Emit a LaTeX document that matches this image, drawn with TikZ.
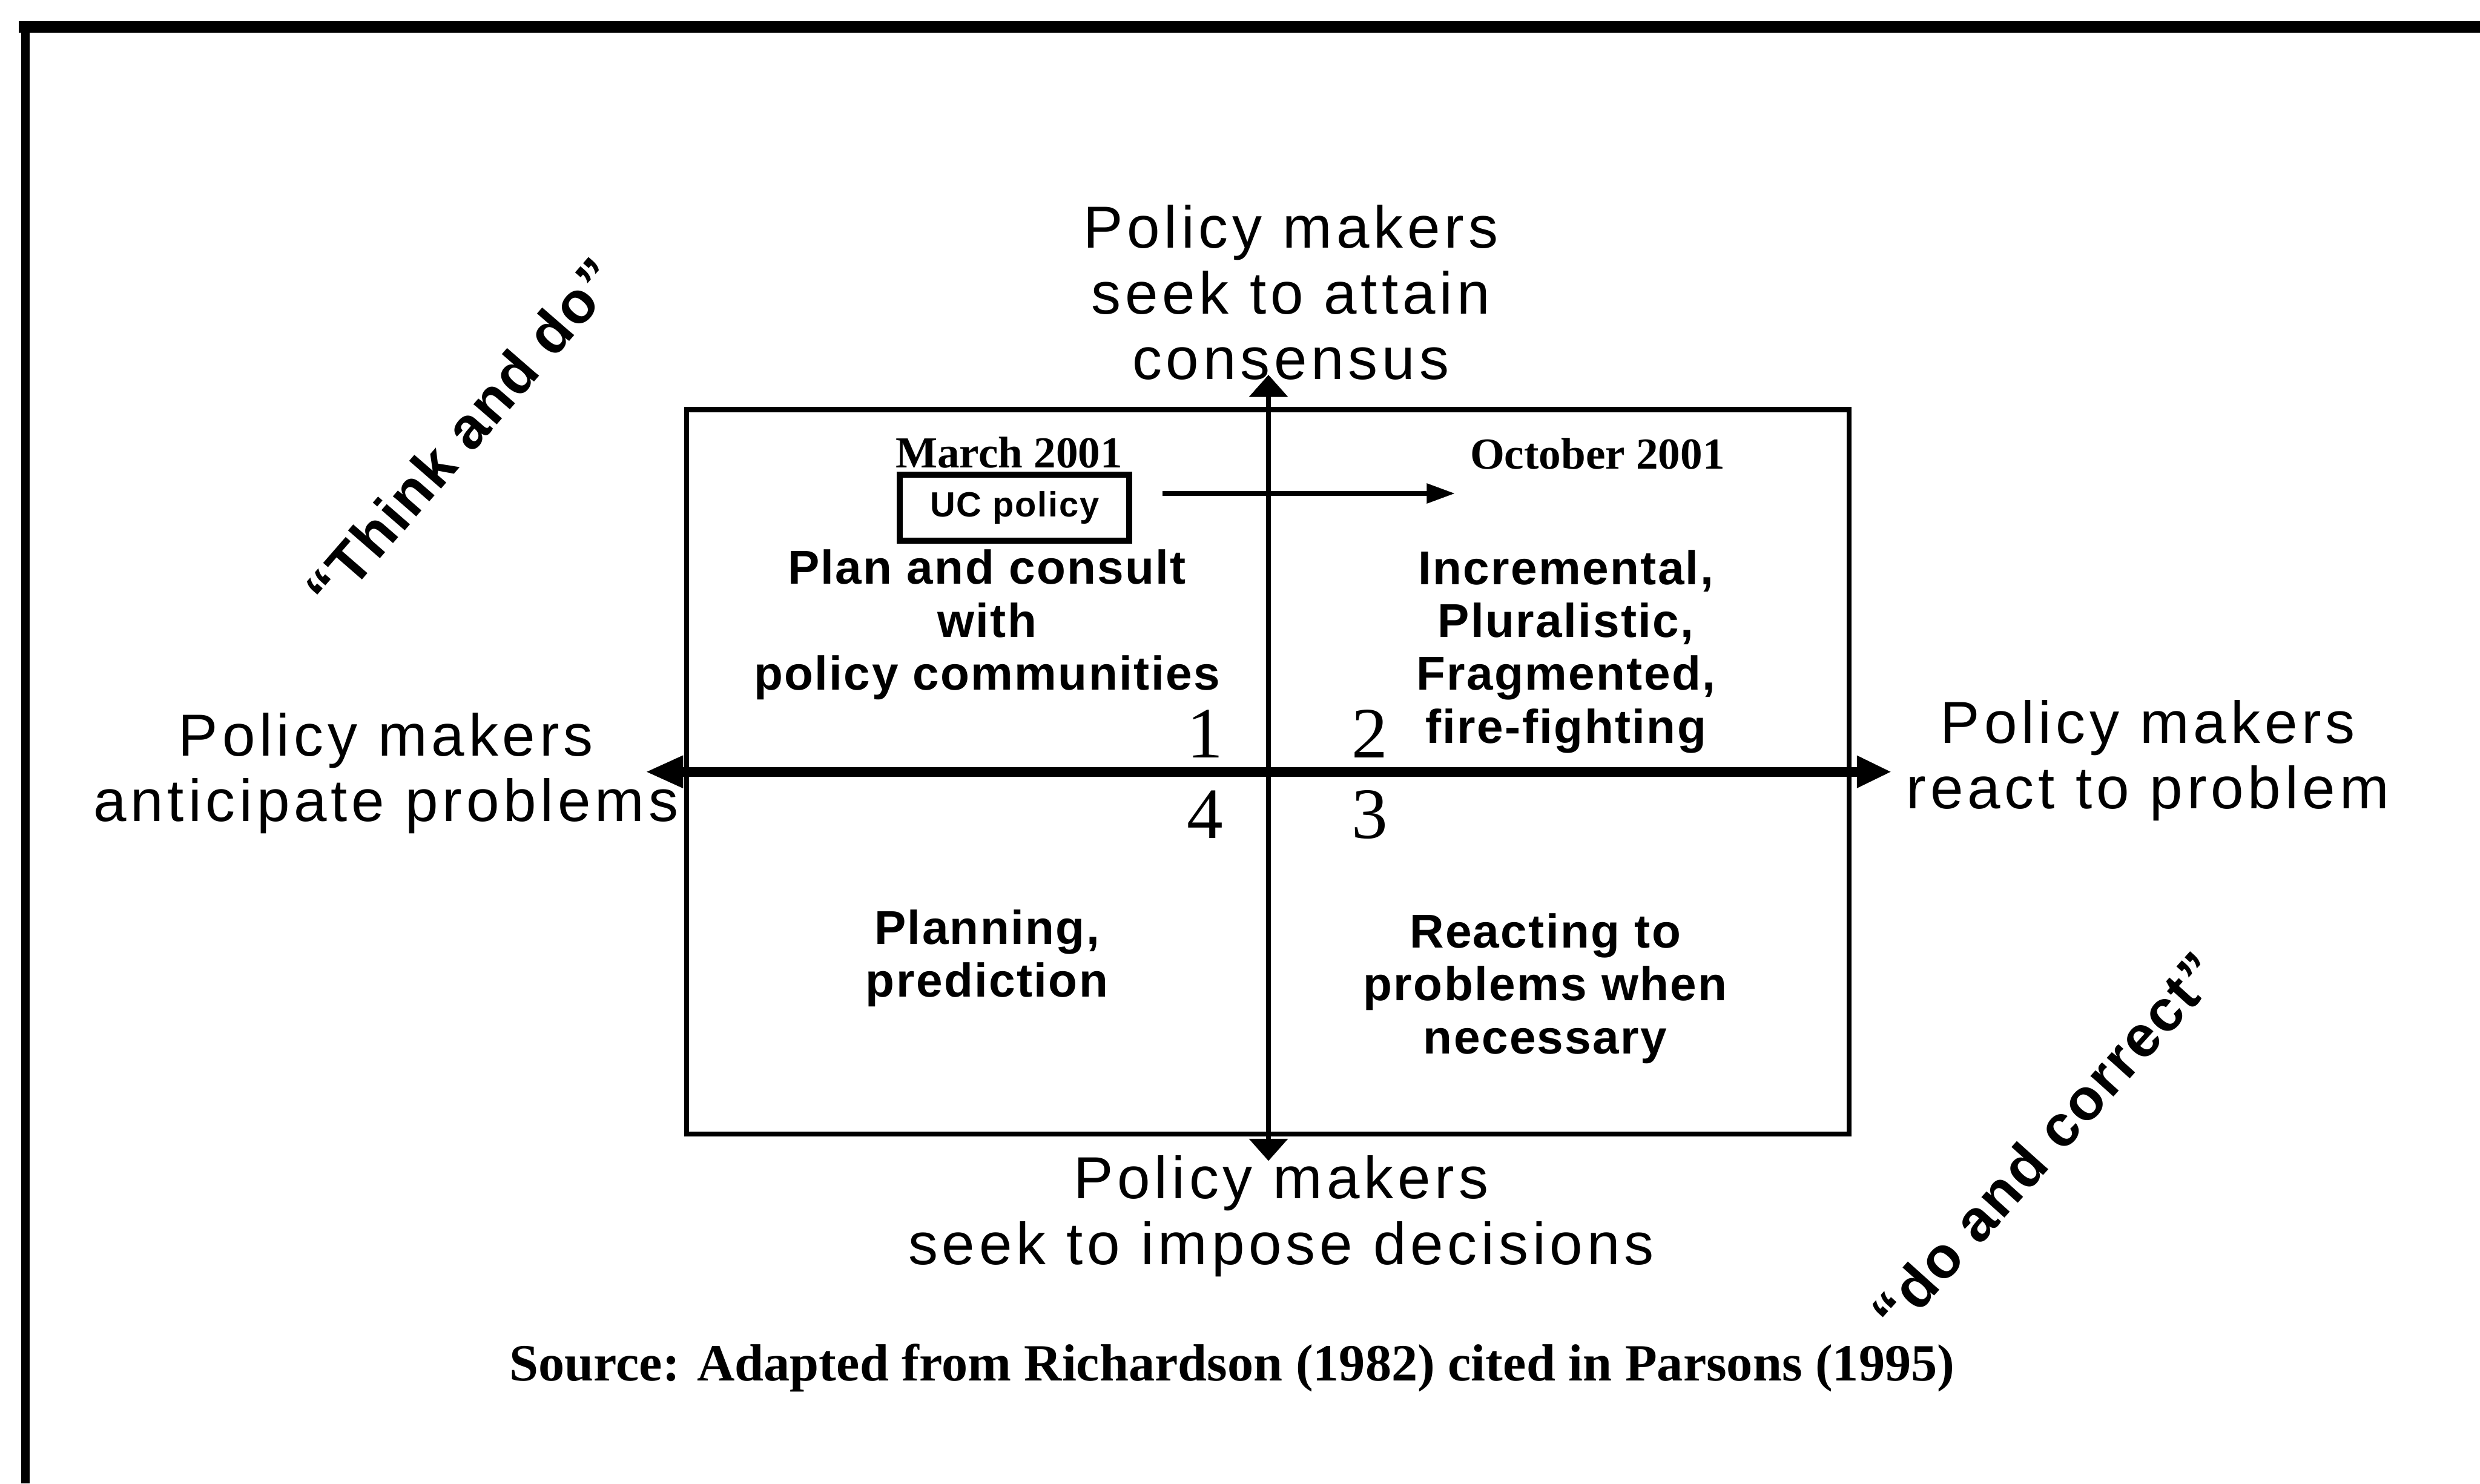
\documentclass[tikz,border=0pt]{standalone}
\usepackage{fontspec}
\setmainfont{Liberation Sans}
\newfontfamily\axisfont[LetterSpace=7]{Liberation Sans}
\newfontfamily\quadfont[LetterSpace=3]{Liberation Sans}
\newfontfamily\numfont{Liberation Serif}
\usetikzlibrary{arrows.meta}

\begin{document}
\begin{tikzpicture}[x=0.1mm,y=-0.1mm,
  axislabel/.style={align=center,inner sep=0pt,
    font=\axisfont\fontsize{10.67}{11.8}\selectfont},
  quadtext/.style={align=center,inner sep=0pt,
    font=\quadfont\bfseries\fontsize{8.54}{9.5}\selectfont},
  quadnum/.style={inner sep=0pt,font=\numfont\fontsize{13}{13}\selectfont},
  datelabel/.style={inner sep=0pt,font=\numfont\bfseries\fontsize{7.97}{8}\selectfont},
  diaglabel/.style={inner sep=0pt,font=\quadfont\bfseries\fontsize{10.5}{11}\selectfont},
  vaxis/.style={line width=0.9pt,
    {Triangle[length=1.4mm,width=2.4mm]}-{Triangle[length=1.4mm,width=2.4mm]}},
  haxis/.style={line width=1.7pt,
    {Triangle[length=2.4mm,width=1.9mm]}-{Triangle[length=2.2mm,width=1.9mm]}},
  moveto/.style={line width=0.9pt,-{Triangle[length=1.8mm,width=1.2mm]}},
]
\useasboundingbox (0,0) rectangle (1568,938);

% outer frame (top and left edges only)
\draw[line width=2.1pt] (12,17) -- (1568,17);
\draw[line width=1.5pt] (16,17) -- (16,938);

% the four-quadrant box
\node[draw,line width=0.9pt,minimum width=73.5mm,minimum height=45.8mm,inner sep=0pt]
  (grid) at (801.5,488) {};

% axes
\coordinate (vtop) at (802,237);
\coordinate (vbot) at (802,734);
\coordinate (hleft) at (408,488);
\coordinate (hright) at (1196,488);
\draw[vaxis] (vbot) -- (vtop);
\draw[haxis] (hleft) -- (hright);

% axis labels
\node[axislabel] (top) at (816,185) {Policy makers\\seek to attain\\consensus};
\node[axislabel] (left) at (244,489) {Policy makers\\anticipate problems};
\node[axislabel] (right) at (1358,481) {Policy makers\\react to problem};
\node[axislabel] (bottom) at (810,769) {Policy makers\\seek to impose decisions};

% dates and the policy move
\node[datelabel] (march) at (638,286) {March 2001};
\node[datelabel] (october) at (1010,287) {October 2001};
\node[draw,line width=1.1pt,minimum width=14.5mm,minimum height=4.2mm,inner sep=0pt,
  font=\quadfont\bfseries\fontsize{6.3}{7}\selectfont] (uc) at (641.5,321) {UC policy};
\coordinate (ustart) at (735,312);
\coordinate (uend) at (920,312);
\draw[moveto] (ustart) -- (uend);

% quadrant texts
\node[quadtext] (q1) at (624,395) {Plan and consult\\with\\policy communities};
\node[quadtext] (q2) at (990,412) {Incremental,\\Pluralistic,\\Fragmented,\\fire-fighting};
\node[quadtext] (q4) at (624,606) {Planning,\\prediction};
\node[quadtext] (q3) at (977,625) {Reacting to\\problems when\\necessary};

% quadrant numbers
\node[quadnum] (n1) at (762,464) {1};
\node[quadnum] (n2) at (866,464) {2};
\node[quadnum] (n4) at (762,515) {4};
\node[quadnum] (n3) at (866,515) {3};

% diagonal labels
\node[diaglabel,rotate=49] (think) at (292,274) {“Think and do”};
\node[diaglabel,rotate=48] (correct) at (1293,722) {“do and correct”};

% source line
\node[inner sep=0pt,font=\numfont\bfseries\fontsize{9.4}{10}\selectfont] (src) at (779,865)
  {Source: Adapted from Richardson (1982) cited in Parsons (1995)};
\end{tikzpicture}
\end{document}
